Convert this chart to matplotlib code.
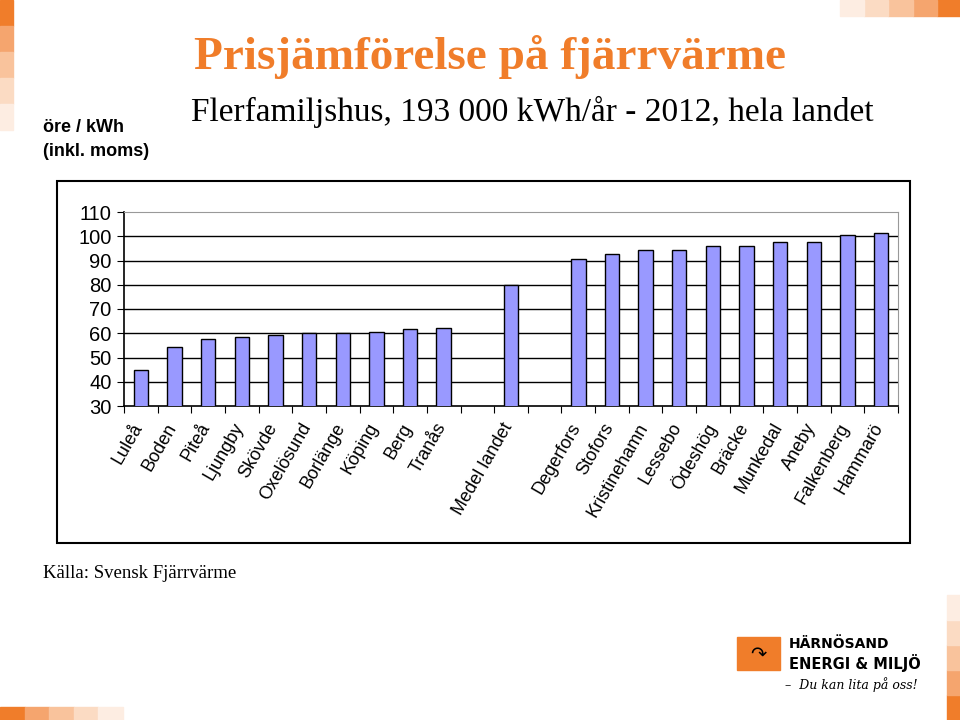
import numpy as np
import matplotlib.pyplot as plt
from matplotlib.patches import Rectangle

# data
orter = ['Luleå', 'Boden', 'Piteå', 'Ljungby', 'Skövde', 'Oxelösund', 'Borlänge',
         'Köping', 'Berg', 'Tranås', '', 'Medel landet', '', 'Degerfors', 'Stofors',
         'Kristinehamn', 'Lessebo', 'Ödeshög', 'Bräcke', 'Munkedal', 'Aneby',
         'Falkenberg', 'Hammarö']
pris = [45.0, 54.4, 57.5, 58.6, 59.3, 59.9, 60.0, 60.4, 61.6, 62.2, np.nan, 79.7, np.nan,
        90.7, 92.6, 94.2, 94.2, 96.0, 96.0, 97.7, 97.7, 100.7, 101.3]
yticks = [30, 40, 50, 60, 70, 80, 90, 100, 110]

orange = '#F07D2A'
W, H = 960, 720

fig = plt.figure(figsize=(9.6, 7.2), dpi=100)

def px(x, y):
    return x / W, 1 - y / H

# dekorativa rutor
def ruta(x, y, w, h, c):
    fig.patches.append(Rectangle((x / W, 1 - (y + h) / H), w / W, h / H,
                                 transform=fig.transFigure, color=c, zorder=0))

toner = ['#F07D2A', '#F5A56E', '#F9C39C', '#FBDBC3', '#FDEDE2']
for i, c in enumerate(toner):
    ruta(0, i * 26, 13, 26, c)
    ruta(937 - i * 24.3, 0, 24.3, 16, c)
    ruta(i * 24.5, 707, 24.5, 13, c)
    ruta(947, 695 - i * 25, 13, 25, c)

# ram runt diagrammet
fig.patches.append(Rectangle(px(57, 543), 853 / W, 362 / H, transform=fig.transFigure,
                             fill=False, edgecolor='black', linewidth=1.5, zorder=1))

ax = fig.add_axes([124 / W, 1 - 406 / H, 774 / W, 194 / H])
x = np.arange(len(orter))
ax.bar(x, pris, width=0.43, color='#9999FF', edgecolor='black', linewidth=1, zorder=3)
ax.set_xlim(-0.5, len(orter) - 0.5)
ax.set_ylim(30, 110)
ax.set_yticks(yticks)
ax.set_yticklabels([str(v) for v in yticks], fontsize=14.5, family='Liberation Sans')
for v in yticks[1:-1]:
    ax.axhline(v, color='black', linewidth=1, zorder=1)
ax.set_xticks(np.arange(len(orter) + 1) - 0.5, minor=False)
ax.set_xticklabels([])
ax.tick_params(axis='x', direction='out', length=5, color='black')
ax.tick_params(axis='y', direction='out', length=5, color='black', pad=4)
for s in ['top', 'right']:
    ax.spines[s].set_color('#999999')
for s in ['left', 'bottom']:
    ax.spines[s].set_color('black')
    ax.spines[s].set_linewidth(1.2)

for i, namn in enumerate(orter):
    if namn:
        ax.text(i - 0.27, 24.2, namn, rotation=60, ha='right', va='top',
                rotation_mode='anchor', fontsize=13, family='Liberation Sans',
                transform=ax.transData, clip_on=False)

# texter
fig.text(*px(490, 57), 'Prisjämförelse på fjärrvärme', color=orange, fontsize=34,
         fontweight='bold', family='Liberation Serif', ha='center', va='center')
fig.text(*px(532, 112), 'Flerfamiljshus, 193 000 kWh/år - 2012, hela landet',
         fontsize=24, family='Liberation Serif', ha='center', va='center')
fig.text(*px(43, 128), 'öre / kWh', fontsize=13, fontweight='bold',
         family='Liberation Sans', va='center')
fig.text(*px(43, 152), '(inkl. moms)', fontsize=13, fontweight='bold',
         family='Liberation Sans', va='center')
fig.text(*px(43, 574), 'Källa: Svensk Fjärrvärme', fontsize=13.5,
         family='Liberation Serif', va='center')

# logga
ruta(737, 637, 43, 33, orange)
fig.text(*px(758, 654), '↷', fontsize=14, ha='center', va='center', color='black')
fig.text(*px(789, 644), 'HÄRNÖSAND', fontsize=10, fontweight='heavy',
         family='DejaVu Sans', va='center')
fig.text(*px(789, 663), 'ENERGI & MILJÖ', fontsize=10.5, fontweight='heavy',
         family='DejaVu Sans', va='center')
fig.text(*px(785, 685), '–  Du kan lita på oss!', fontsize=9, style='italic',
         family='DejaVu Serif', va='center')

fig.savefig('out.png', dpi=100)
